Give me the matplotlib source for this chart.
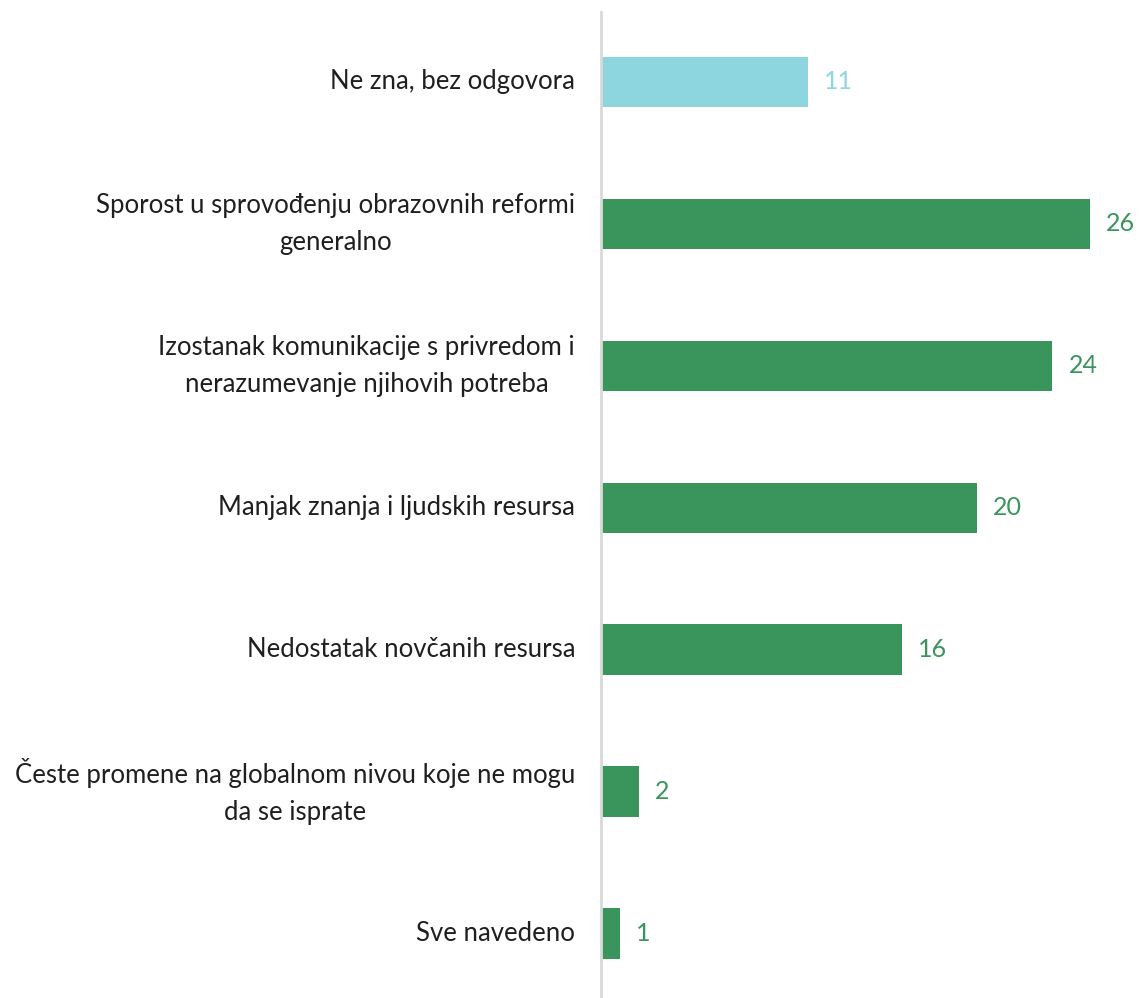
import matplotlib.pyplot as plt

# Survey answers, top to bottom
categories = [
    "Ne zna, bez odgovora",
    "Sporost u sprovođenju obrazovnih reformi\ngeneralno",
    "Izostanak komunikacije s privredom i\nnerazumevanje njihovih potreba",
    "Manjak znanja i ljudskih resursa",
    "Nedostatak novčanih resursa",
    "Česte promene na globalnom nivou koje ne mogu\nda se isprate",
    "Sve navedeno",
]
values = [11, 26, 24, 20, 16, 2, 1]
colors = ["#8DD5DF", "#3A955C", "#3A955C", "#3A955C", "#3A955C", "#3A955C", "#3A955C"]
label_colors = ["#8DD5DF", "#3A955C", "#3A955C", "#3A955C", "#3A955C", "#3A955C", "#3A955C"]

plt.rcParams['font.family'] = ['Lato', 'DejaVu Sans']

fig = plt.figure(figsize=(11.39, 9.98), dpi=100)
ax = fig.add_axes([601 / 1139, 0, 1 - 601 / 1139, 1 - 12 / 998])

pos = list(range(len(categories)))
ax.barh(pos, values, height=0.355, color=colors)

for y, v, c in zip(pos, values, label_colors):
    ax.text(v + 0.85, y, str(v), color=c, fontsize=18, va="center", ha="left")

for y, cat in zip(pos, categories):
    ax.text(-1.38, y, cat, color="#1f1f1f", fontsize=18.5, va="center", ha="right",
            multialignment="center", linespacing=1.6)

ax.set_xlim(0, 28.6)
ax.set_ylim(6.455, -0.493)

for side in ["top", "right", "bottom"]:
    ax.spines[side].set_visible(False)
ax.spines["left"].set_color("#d9d9d9")
ax.spines["left"].set_linewidth(2)
ax.set_xticks([])
ax.set_yticks([])

fig.savefig("out.png", dpi=100)
